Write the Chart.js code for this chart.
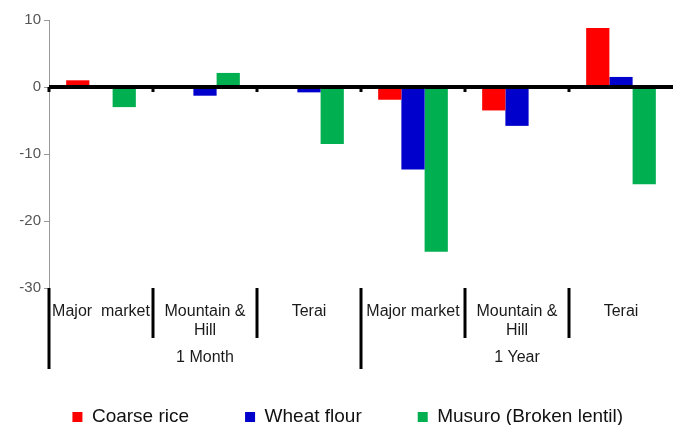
<!DOCTYPE html>
<html>
<head>
<meta charset="utf-8">
<title>Price change by market</title>
<script src="https://cdn.jsdelivr.net/npm/chart.js@4.4.1/dist/chart.umd.min.js"></script>
<style>
  html, body { margin: 0; padding: 0; background: #fff; }
  #grafico { display: block; }
</style>
</head>
<body>
<canvas id="grafico" width="673" height="425"></canvas>
<script>
// categorias e grupos
const categorias = ['Major  market', ['Mountain &', 'Hill'], 'Terai', 'Major market', ['Mountain &', 'Hill'], 'Terai'];
const grupos = ['1 Month', '1 Year'];
const tamanhoGrupo = 3;

// valores (% de variação)
const arrozGrosso = [1.0, 0, 0, -1.9, -3.5, 8.8];
const farinhaTrigo = [0, -1.3, -0.8, -12.3, -5.8, 1.5];
const musuro = [-3.0, 2.1, -8.5, -24.6, 0, -14.5];

const yTicks = [10, 0, -10, -20, -30];

const fonte = "'Liberation Sans', Arial, sans-serif";

// linhas separadoras, rótulos dos grupos e linha do zero
const separadores = {
  id: 'separadores',
  afterDatasetsDraw(chart) {
    const { ctx, chartArea, scales } = chart;
    const x = scales.x, y = scales.y;
    const n = categorias.length;
    const limites = [chartArea.left];
    for (let i = 0; i < n - 1; i++) {
      limites.push((x.getPixelForValue(i) + x.getPixelForValue(i + 1)) / 2);
    }
    const y0 = y.getPixelForValue(0);

    ctx.save();
    // linha do zero
    ctx.strokeStyle = '#000';
    ctx.lineWidth = 4;
    ctx.beginPath();
    ctx.moveTo(chartArea.left, y0);
    ctx.lineTo(chartArea.right, y0);
    ctx.stroke();
    // pequenas marcas no zero
    ctx.fillStyle = '#000';
    limites.forEach(lx => ctx.fillRect(lx - 1.5, y0, 3, 5));

    // separadores verticais
    const base = chartArea.bottom;
    limites.forEach((lx, i) => {
      const externo = i % tamanhoGrupo === 0;
      ctx.fillRect(lx - 1.5, base, 3, externo ? 81 : 50);
    });

    // rótulos dos grupos
    ctx.font = '16px ' + fonte;
    ctx.fillStyle = '#1a1a1a';
    ctx.textAlign = 'center';
    ctx.textBaseline = 'middle';
    grupos.forEach((g, gi) => {
      const ini = limites[gi * tamanhoGrupo];
      const fim = gi + 1 < grupos.length ? limites[(gi + 1) * tamanhoGrupo] : chartArea.right;
      ctx.fillText(g, (ini + fim) / 2, base + 70);
    });
    ctx.restore();
  }
};

// a legenda do original fica um pouco deslocada para a direita
const ajusteLegenda = {
  id: 'ajusteLegenda',
  afterLayout(chart) {
    const leg = chart.legend;
    leg.left = 0;
    leg.right = 695.5;
    leg.width = 695.5;
  }
};

const ctx = document.getElementById('grafico').getContext('2d');
const grafico = new Chart(ctx, {
  type: 'bar',
  data: {
    labels: categorias,
    datasets: [
      { label: 'Coarse rice', data: arrozGrosso, backgroundColor: '#ff0000' },
      { label: 'Wheat flour', data: farinhaTrigo, backgroundColor: '#0000cc' },
      { label: 'Musuro (Broken lentil)', data: musuro, backgroundColor: '#00b050' }
    ]
  },
  options: {
    responsive: false,
    animation: false,
    devicePixelRatio: 1,
    layout: { padding: { top: 20, right: -2, left: 0, bottom: 0 } },
    datasets: { bar: { categoryPercentage: 0.67, barPercentage: 1.0 } },
    plugins: {
      legend: {
        position: 'bottom',
        maxHeight: 73.5,
        labels: {
          font: { family: fonte, size: 19 },
          color: '#111',
          boxWidth: 10,
          boxHeight: 10,
          padding: 56
        }
      },
      tooltip: { enabled: false }
    },
    scales: {
      x: {
        grid: { display: false },
        border: { display: false },
        ticks: {
          font: { family: fonte, size: 16 },
          color: '#1a1a1a',
          padding: 6,
          maxRotation: 0,
          autoSkip: false
        },
        afterFit(scale) { scale.height = 63.5; }
      },
      y: {
        min: -30,
        max: 10,
        afterBuildTicks(scale) { scale.ticks = yTicks.map(v => ({ value: v })); },
        grid: {
          drawOnChartArea: false,
          tickColor: '#999',
          tickLength: 5
        },
        border: { color: '#999', width: 1 },
        ticks: {
          font: { family: fonte, size: 15 },
          color: '#555',
          padding: 3
        },
        afterFit(scale) { scale.width = 49; }
      }
    }
  },
  plugins: [separadores, ajusteLegenda]
});
</script>
</body>
</html>
